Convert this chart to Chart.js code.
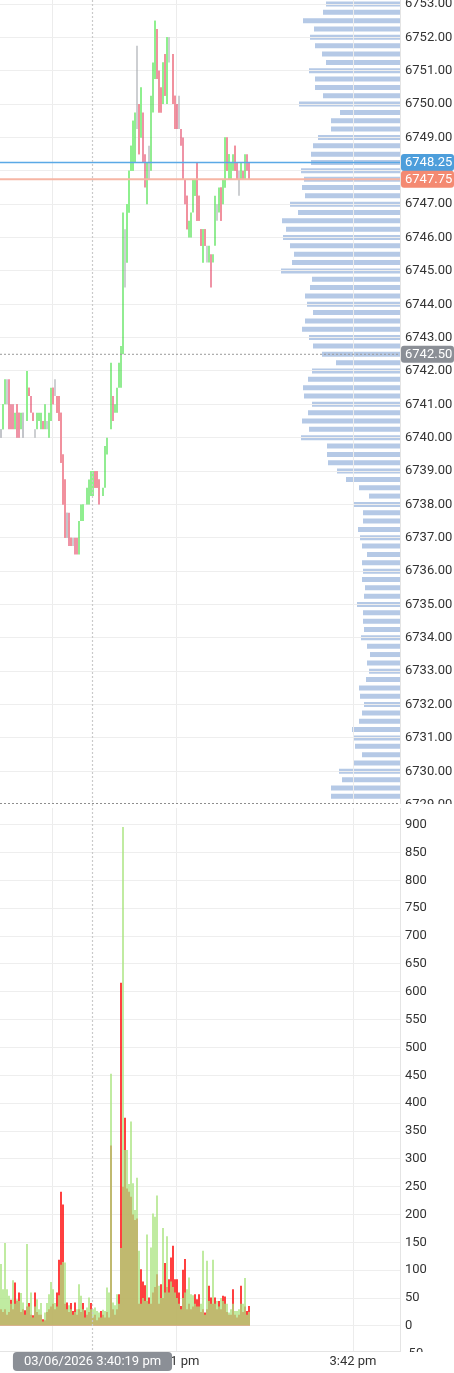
<!DOCTYPE html>
<html>
<head>
<meta charset="utf-8">
<script src="https://cdn.jsdelivr.net/npm/chart.js@4.4.1/dist/chart.umd.min.js"></script>
<style>
  html, body { margin: 0; padding: 0; background: #fff; }
  #wrap { position: relative; width: 454px; height: 1373px; overflow: hidden; }
  canvas { position: absolute; left: 0; }
  #profileCanvas, #priceCanvas { top: 0; }
  #volumeCanvas { top: 804px; }
</style>
</head>
<body>
<div id="wrap">
  <canvas id="profileCanvas" width="454" height="804"></canvas>
  <canvas id="priceCanvas" width="454" height="804"></canvas>
  <canvas id="volumeCanvas" width="454" height="569"></canvas>
</div>
<script>
// one slot = one second bar, slot 0 is the first bar on screen
const candleTrend = [
  'f','u','u','f','d','d','d','u','d','d',
  'u','f',null,'u','d','d','d','f','u','u',
  'u','d','u','f','u','u','d','f','d','d',
  'd','d','d','f','d','d','f','d','d','u',
  'u','u',null,'u','u','u','u','d','d','d',
  null,'u','u','u',null,'u','d','u','u','u',
  'u','u','f','u','u','u','u','u','f','d',
  'u','d','d','u','f','u','u','u','d','d',
  'd','u','d','u','f',null,'d','d','d','f',
  'd','d','d','d','u','u','u','u','d','d',
  'd','u','d','f','u','d','u','u','f','u',
  'd','u','u','d','u','u','u','d','d','f',
  'u','d','u','d','d'
];
const candleLow = [
  6740.00, 6740.25, 6741.00, 6741.00, 6740.25, 6740.25, 6740.25, 6740.25, 6740.00, 6740.00,
  6740.25, 6740.00, null, 6740.50, 6741.25, 6740.75, 6740.50, 6740.00, 6740.25, 6740.50,
  6740.25, 6740.25, 6740.25, 6740.25, 6740.00, 6740.50, 6741.00, 6741.25, 6740.75, 6740.50,
  6739.25, 6738.00, 6737.00, 6737.00, 6736.75, 6736.75, 6736.75, 6736.50, 6736.50, 6736.50,
  6737.50, 6737.50, null, 6738.00, 6738.00, 6738.25, 6738.25, 6738.50, 6738.50, 6738.00,
  null, 6738.25, 6738.50, 6739.50, null, 6740.25, 6740.50, 6740.75, 6740.75, 6741.50,
  6741.50, 6742.50, 6744.50, 6745.25, 6746.75, 6748.00, 6748.00, 6748.25, 6749.25, 6748.50,
  6749.00, 6748.25, 6747.50, 6747.00, 6747.75, 6748.00, 6749.75, 6750.75, 6750.75, 6749.75,
  6749.75, 6750.00, 6750.25, 6750.00, 6751.25, null, 6750.00, 6749.25, 6749.25, 6749.25,
  6748.75, 6747.75, 6747.00, 6746.25, 6746.00, 6746.00, 6746.75, 6747.25, 6746.50, 6746.50,
  6745.75, 6745.25, 6745.75, 6745.25, 6745.25, 6744.50, 6745.25, 6745.75, 6746.50, 6746.75,
  6746.50, 6747.00, 6747.50, 6748.00, 6747.75, 6747.75, 6748.00, 6748.00, 6747.75, 6747.25,
  6747.75, 6747.75, 6747.75, 6748.00, 6747.75
];
const candleHigh = [
  6740.25, 6741.00, 6741.75, 6741.75, 6741.75, 6741.00, 6741.00, 6740.75, 6741.00, 6740.75,
  6740.75, 6740.75, null, 6742.00, 6741.50, 6741.25, 6740.75, 6740.25, 6740.75, 6740.75,
  6740.75, 6740.50, 6741.00, 6740.50, 6740.75, 6741.50, 6741.50, 6741.75, 6741.25, 6741.25,
  6740.75, 6739.50, 6738.75, 6737.75, 6737.75, 6737.00, 6737.00, 6737.00, 6737.00, 6737.50,
  6738.00, 6738.00, null, 6738.50, 6738.75, 6739.00, 6739.00, 6739.00, 6739.00, 6738.75,
  null, 6738.50, 6739.75, 6740.00, null, 6742.25, 6741.25, 6741.00, 6741.50, 6742.25,
  6742.75, 6746.75, 6746.25, 6747.00, 6748.00, 6748.75, 6749.50, 6749.75, 6751.75, 6750.00,
  6750.50, 6749.75, 6748.50, 6748.25, 6748.75, 6750.25, 6751.25, 6752.50, 6752.25, 6751.00,
  6750.50, 6751.25, 6751.50, 6752.00, 6752.00, null, 6751.50, 6750.25, 6750.00, 6750.25,
  6749.25, 6749.00, 6747.75, 6747.25, 6746.50, 6746.75, 6747.75, 6747.75, 6748.25, 6747.25,
  6746.25, 6746.25, 6746.25, 6745.75, 6745.75, 6745.50, 6745.50, 6747.25, 6747.00, 6747.50,
  6747.50, 6747.75, 6749.00, 6749.00, 6748.50, 6748.25, 6748.50, 6748.75, 6748.25, 6748.00,
  6748.25, 6748.00, 6748.50, 6748.50, 6748.25
];
// bodies: null where the bar shows only its high-low line
const candleOpen = [
  6740.25, 6740.25, null, null, null, null, null, null, 6741.00, 6740.75,
  null, 6740.75, null, 6740.50, 6741.50, null, 6740.75, null, null, null,
  null, null, null, null, null, null, 6741.50, null, 6741.25, 6741.25,
  6740.75, 6739.50, 6738.75, 6737.75, 6737.50, 6737.00, null, null, null, null,
  null, 6737.50, null, null, null, 6738.25, 6738.50, 6739.00, 6739.00, 6738.75,
  null, null, null, null, null, null, null, null, null, null,
  null, null, null, 6745.25, 6746.75, 6748.00, 6748.00, null, null, 6750.00,
  6749.00, null, null, null, null, null, null, 6750.75, 6752.25, 6751.00,
  6750.50, 6750.00, 6751.50, 6750.00, null, null, 6751.50, 6750.25, null, null,
  null, null, null, 6747.25, null, null, null, 6747.25, 6748.25, 6747.25,
  6746.25, 6745.25, 6746.25, null, null, null, null, null, null, null,
  6747.50, null, 6747.50, 6749.00, 6747.75, 6747.75, null, 6748.75, null, null,
  null, null, null, null, null
];
const candleClose = [
  6740.00, 6741.00, null, null, null, null, null, null, 6740.75, 6740.25,
  null, 6740.00, null, 6742.00, 6741.25, null, 6740.50, null, null, null,
  null, null, null, null, null, null, 6741.00, null, 6740.75, 6740.50,
  6739.25, 6738.00, 6737.00, 6737.00, 6737.00, 6736.75, null, null, null, null,
  null, 6738.00, null, null, null, 6739.00, 6739.00, 6738.50, 6738.50, 6738.25,
  null, null, null, null, null, null, null, null, null, null,
  null, null, null, 6747.00, 6748.00, 6748.75, 6749.50, null, null, 6748.50,
  6750.50, null, null, null, null, null, null, 6752.50, 6751.00, 6749.75,
  6749.75, 6751.25, 6750.25, 6752.00, null, null, 6750.00, 6749.25, null, null,
  null, null, null, 6746.25, null, null, null, 6747.75, 6746.50, 6746.50,
  6745.75, 6746.25, 6745.75, null, null, null, null, null, null, null,
  6746.50, null, 6749.00, 6748.00, 6748.50, 6748.25, null, 6748.00, null, null,
  null, null, null, null, null
];

const buyVolume = [
  111, 66, 149, 66, 54, 40, 82, 40, 48, 45,
  59, 42, 20, 147, 35, 60, 15, 35, 48, 30,
  41, 8, 24, 41, 57, 79, 66, 41, 35, 55,
  110, 115, 114, 30, 37, 30, 20, 25, 30, 75,
  54, 30, 15, 33, 51, 30, 30, 33, 27, 24,
  15, 29, 27, 69, 60, 453, 42, 37, 57, 40,
  140, 896, 316, 316, 255, 367, 256, 208, 266, 135,
  40, 50, 45, 164, 40, 141, 202, 196, 234, 72,
  50, 176, 60, 161, 60, 80, 70, 60, 50, 40,
  30, 50, 60, 66, 87, 57, 55, 40, 35, 35,
  40, 135, 20, 117, 45, 40, 119, 40, 45, 35,
  50, 45, 40, 40, 24, 30, 40, 27, 27, 30,
  40, 40, 86, 20, 25
];
const sellVolume = [
  30, 25, 30, 20, 25, 47, 30, 78, 45, 60,
  25, 30, 28, 35, 41, 20, 19, 60, 25, 20,
  20, 12, 10, 25, 30, 35, 40, 30, 60, 119,
  241, 218, 40, 42, 25, 41, 27, 42, 20, 30,
  25, 41, 28, 20, 25, 41, 15, 20, 10, 15,
  27, 20, 15, 25, 15, 324, 30, 20, 30, 57,
  616, 250, 374, 247, 241, 232, 200, 190, 193, 40,
  102, 80, 73, 45, 51, 40, 60, 70, 93, 40,
  75, 50, 113, 70, 84, 123, 144, 84, 84, 60,
  36, 101, 120, 30, 40, 30, 35, 57, 48, 57,
  25, 30, 24, 30, 72, 51, 40, 51, 30, 45,
  30, 54, 53, 25, 20, 20, 66, 20, 15, 20,
  72, 25, 35, 27, 36
];

// volume profile, from 6753.00 down in 0.25 steps
const profileTop = 6753.00;
const profileStep = 0.25;
const profileVolume = [
  740, 770, 970, 860, 900, 850, 780, 740,
  910, 850, 850, 770, 1010, 600, 690, 690,
  820, 870, 890, 890, 990, 960, 980, 950,
  1100, 1020, 1180, 1140, 1170, 1100, 1060, 1080,
  1190, 880, 900, 950, 930, 870, 950, 980,
  910, 870, 780, 640, 880, 920, 970, 960,
  880, 920, 980, 910, 990, 730, 730, 720,
  630, 540, 410, 310, 470, 370, 370, 420,
  400, 380, 330, 380, 370, 380, 350, 360,
  430, 370, 370, 360, 390, 330, 300, 330,
  310, 340, 410, 400, 360, 380, 410, 480,
  460, 450, 380, 470, 610, 580, 690, 690
];
const profileLevels = profileVolume.map((v, i) => profileTop - i * profileStep);

const priceTicks = [6729, 6730, 6731, 6732, 6733, 6734, 6735, 6736, 6737, 6738, 6739, 6740, 6741,
  6742, 6743, 6744, 6745, 6746, 6747, 6748, 6749, 6750, 6751, 6752, 6753];
const volumeTicks = [-50, 0, 50, 100, 150, 200, 250, 300, 350, 400, 450, 500, 550, 600, 650, 700, 750, 800, 850, 900];
const timeTickSlots = [25.5, 87.5, 176];
const timeTickLabels = ['3:40 pm', '3:41 pm', '3:42 pm'];

const markerPrices = [6748.25, 6747.75, 6742.50];
const crosshairSlot = 45.5;
const crosshairLabel = '03/06/2026 3:40:19 pm';

// view
const slotMin = -0.5, slotMax = 199.5;
const priceMin = 6729.02, priceMax = 6753.12;
const volMin = -45, volMax = 930;

const markerLine = ['#5aa9e6', '#f6b6a5', '#9a9a9a'];
const markerFill = ['#4d9edb', '#f48a72', '#8b8f96'];
const wickColor = { u: '#27d927', d: '#e0284f', f: '#9b9fa6' };
const bodyColor = { u: '#8ef08e', d: '#f1919e', f: '#c3c5ca' };

Chart.defaults.font.family = 'Roboto, "DejaVu Sans", sans-serif';
Chart.defaults.font.size = 13;
Chart.defaults.color = '#333';
Chart.defaults.animation = false;
Chart.defaults.plugins.legend.display = false;
Chart.defaults.plugins.tooltip.enabled = false;

function pinY(s) { s.width = 54; s.paddingTop = 0; s.paddingBottom = 0; }
function roundBox(ctx, x, y, w, h, r) {
  ctx.beginPath();
  ctx.moveTo(x + r, y);
  ctx.lineTo(x + w - r, y);
  ctx.quadraticCurveTo(x + w, y, x + w, y + r);
  ctx.lineTo(x + w, y + h - r);
  ctx.quadraticCurveTo(x + w, y + h, x + w - r, y + h);
  ctx.lineTo(x + r, y + h);
  ctx.quadraticCurveTo(x, y + h, x, y + h - r);
  ctx.lineTo(x, y + r);
  ctx.quadraticCurveTo(x, y, x + r, y);
  ctx.closePath();
}
function crosshair(ctx, x, top, bottom) {
  ctx.save();
  ctx.strokeStyle = '#cacaca';
  ctx.lineWidth = 1.2;
  ctx.setLineDash([2, 2]);
  ctx.beginPath();
  ctx.moveTo(x, top);
  ctx.lineTo(x, bottom);
  ctx.stroke();
  ctx.restore();
}

// ---------- volume profile (behind the price chart)
new Chart(document.getElementById('profileCanvas'), {
  type: 'bar',
  data: {
    datasets: [{
      data: profileLevels.map((p, i) => ({ x: profileVolume[i], y: p })),
      backgroundColor: '#b5c9e6',
      barThickness: 5,
      inflateAmount: 0,
      grouped: false
    }]
  },
  options: {
    indexAxis: 'y',
    responsive: false,
    layout: { padding: { right: 54 } },
    scales: {
      x: { type: 'linear', min: 0, max: 4000, reverse: true, display: false },
      y: { type: 'linear', min: priceMin, max: priceMax, offset: false, display: false }
    }
  }
});

// ---------- price bars
const slotIdx = candleLow.map((v, i) => i);
const wickPts = slotIdx.filter(i => candleLow[i] !== null)
  .map(i => ({ x: i, y: [candleLow[i], candleHigh[i]], t: candleTrend[i] }));
const bodyPts = slotIdx.filter(i => candleOpen[i] !== null)
  .map(i => ({ x: i, y: [candleOpen[i], candleClose[i]], t: candleTrend[i] }));

const lineSets = markerPrices.map((p, k) => ({
  type: 'line',
  order: 0,
  data: [{ x: slotMin, y: p }, { x: slotMax, y: p }],
  borderColor: markerLine[k],
  borderWidth: k === 1 ? 2 : (k === 0 ? 1.5 : 1),
  borderDash: k === 2 ? [2, 2] : [],
  pointRadius: 0
}));

const priceOverlay = {
  id: 'priceOverlay',
  afterDraw(chart) {
    const { ctx, chartArea, scales } = chart;
    crosshair(ctx, Math.round(scales.x.getPixelForValue(crosshairSlot)) + 0.5, chartArea.top, chartArea.bottom);
    ctx.save();
    ctx.strokeStyle = '#8e8e8e';
    ctx.lineWidth = 1;
    ctx.setLineDash([2, 2]);
    ctx.beginPath();
    ctx.moveTo(chartArea.left, chartArea.bottom - 0.5);
    ctx.lineTo(chartArea.right, chartArea.bottom - 0.5);
    ctx.stroke();
    ctx.setLineDash([]);
    ctx.font = '13px Roboto';
    ctx.textBaseline = 'middle';
    ctx.textAlign = 'left';
    markerPrices.forEach((p, k) => {
      const yc = scales.y.getPixelForValue(p);
      ctx.fillStyle = markerFill[k];
      roundBox(ctx, chartArea.right + 1, yc - 8.5, 53, 17, 3);
      ctx.fill();
      ctx.fillStyle = '#fff';
      ctx.fillText(p.toFixed(2), chartArea.right + 5, yc + 0.5);
    });
    ctx.restore();
  }
};

new Chart(document.getElementById('priceCanvas'), {
  type: 'bar',
  data: {
    datasets: [
      ...lineSets,
      { order: 1, data: bodyPts, backgroundColor: c => c.raw ? bodyColor[c.raw.t] : '#ccc', barThickness: 2, inflateAmount: 0, grouped: false },
      { order: 2, data: wickPts, backgroundColor: c => c.raw ? wickColor[c.raw.t] : '#999', barThickness: 1, inflateAmount: 0, grouped: false }
    ]
  },
  options: {
    responsive: false,
    layout: { padding: 0 },
    scales: {
      x: {
        type: 'linear', min: slotMin, max: slotMax, offset: false,
        grid: { offset: false, color: '#ececec', drawTicks: false },
        border: { display: false },
        ticks: { display: false },
        afterBuildTicks: s => { s.ticks = timeTickSlots.map(v => ({ value: v })); },
        afterFit: s => { s.height = 0; s.paddingLeft = 0; s.paddingRight = 0; }
      },
      y: {
        type: 'linear', position: 'right', min: priceMin, max: priceMax,
        grid: { color: '#eeeeee', drawTicks: false },
        border: { color: '#e4e4e4' },
        ticks: { padding: 5, autoSkip: false, callback: v => v.toFixed(2) },
        afterBuildTicks: s => { s.ticks = priceTicks.map(v => ({ value: v })); },
        afterFit: pinY
      }
    }
  },
  plugins: [priceOverlay]
});

// ---------- volume
const volumeOverlay = {
  id: 'volumeOverlay',
  afterDraw(chart) {
    const { ctx, chartArea, scales, width, height } = chart;
    // axis area below the plot hides the lower half of the -50 label
    ctx.save();
    ctx.fillStyle = '#fff';
    ctx.fillRect(chartArea.right + 1, chartArea.bottom + 1, width - chartArea.right, height - chartArea.bottom);
    ctx.restore();
    const cx = Math.round(scales.x.getPixelForValue(crosshairSlot)) + 0.5;
    crosshair(ctx, cx, 0, chartArea.bottom);
    ctx.save();
    ctx.font = '13px Roboto';
    const w = ctx.measureText(crosshairLabel).width + 22;
    ctx.fillStyle = '#8b8f96';
    roundBox(ctx, cx - w / 2, chartArea.bottom + 1, w, 19, 4);
    ctx.fill();
    ctx.fillStyle = '#fff';
    ctx.textAlign = 'center';
    ctx.textBaseline = 'middle';
    ctx.fillText(crosshairLabel, cx, chartArea.bottom + 11);
    ctx.restore();
  }
};

new Chart(document.getElementById('volumeCanvas'), {
  type: 'bar',
  data: {
    datasets: [
      { order: 1, data: buyVolume.map((v, i) => ({ x: i, y: v })), backgroundColor: 'rgba(170,228,128,0.74)', barThickness: 2, inflateAmount: 0, grouped: false },
      { order: 2, data: sellVolume.map((v, i) => ({ x: i, y: v })), backgroundColor: '#ff1010', barThickness: 1.6, inflateAmount: 0, grouped: false }
    ]
  },
  options: {
    responsive: false,
    layout: { padding: { top: 4 } },
    scales: {
      x: {
        type: 'linear', min: slotMin, max: slotMax, offset: false,
        grid: { offset: false, color: '#ececec', drawTicks: false },
        border: { color: '#e4e4e4' },
        ticks: { padding: 3, autoSkip: false, maxRotation: 0, callback: (v, i) => timeTickLabels[i] },
        afterBuildTicks: s => { s.ticks = timeTickSlots.map(v => ({ value: v })); },
        afterFit: s => { s.height = 22; s.paddingLeft = 0; s.paddingRight = 0; }
      },
      y: {
        type: 'linear', position: 'right', min: volMin, max: volMax,
        grid: { color: c => (c.tick && c.tick.value < 0) ? 'rgba(0,0,0,0)' : '#eeeeee', drawTicks: false },
        border: { color: '#e4e4e4' },
        ticks: { padding: 5, autoSkip: false, callback: v => String(v) },
        afterBuildTicks: s => { s.ticks = volumeTicks.map(v => ({ value: v })); },
        afterFit: pinY
      }
    }
  },
  plugins: [volumeOverlay]
});
</script>
</body>
</html>
